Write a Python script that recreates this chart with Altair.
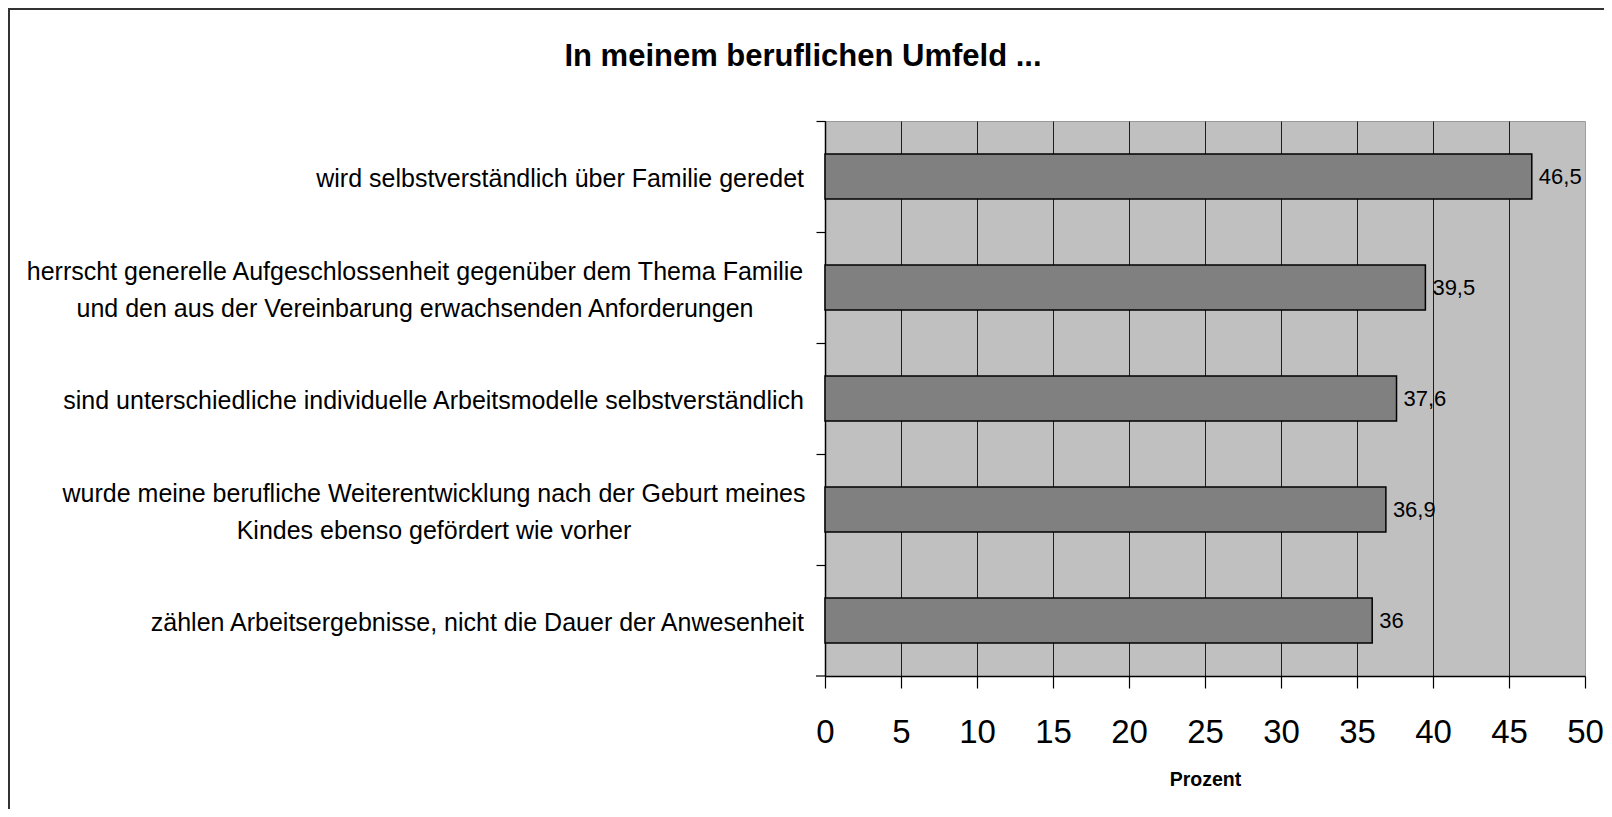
import altair as alt
import pandas as pd

title_text = "In meinem beruflichen Umfeld ..."
axis_title = "Prozent"
categories = [
    "wird selbstverständlich über Familie geredet",
    "herrscht generelle Aufgeschlossenheit gegenüber dem Thema Familie\nund den aus der Vereinbarung erwachsenden Anforderungen",
    "sind unterschiedliche individuelle Arbeitsmodelle selbstverständlich",
    "wurde meine berufliche Weiterentwicklung nach der Geburt meines\nKindes ebenso gefördert wie vorher",
    "zählen Arbeitsergebnisse, nicht die Dauer der Anwesenheit",
]
values = [46.5, 39.5, 37.6, 36.9, 36.0]
x_ticks = [0, 5, 10, 15, 20, 25, 30, 35, 40, 45, 50]

df = pd.DataFrame({"cat": categories, "value": values})

FONT = "Liberation Sans"

y_scale = alt.Scale(paddingInner=0.595, paddingOuter=0.2975)
y_enc = alt.Y(
    "cat:N", sort=categories, scale=y_scale,
    axis=alt.Axis(labels=False, title=None, bandPosition=0, tickOffset=-33, tickSize=9,
                  tickColor="#000000", tickWidth=1.2, domainColor="#000000",
                  domainWidth=1.5, grid=False),
)
x_enc = alt.X(
    "value:Q", scale=alt.Scale(domain=[0, 50], nice=False),
    axis=alt.Axis(values=x_ticks, title=axis_title, labelFontSize=33,
                  labelFlush=False, labelOverlap=False,
                  labelPadding=28, tickSize=12, tickColor="#000000", tickWidth=1.2,
                  domainColor="#000000", domainWidth=1.5,
                  gridColor={"condition": {"test": "datum.value === 50", "value": "#a0a0a0"},
                             "value": "#000000"},
                  gridWidth=1, gridOpacity=0.85, labelColor="#000000",
                  titleFontSize=19.5, titleFontWeight="bold", titleY=109,
                  titleBaseline="alphabetic", titleColor="#000000"),
)

base = alt.Chart(df)
bars = base.mark_bar(color="#808080", stroke="#000000", strokeWidth=1.5).encode(x=x_enc, y=y_enc)

vals = base.transform_calculate(
    lbl="replace(toString(datum.value), '.', ',')"
).mark_text(align="left", baseline="middle", dx=7, fontSize=22, font=FONT, color="#000000").encode(
    x="value:Q", y=alt.Y("cat:N", sort=categories), text="lbl:N"
)

single = base.transform_filter("indexof(datum.cat, '\\n') < 0").mark_text(
    align="right", baseline="middle", fontSize=25, font=FONT, color="#000000", dy=2
).encode(x=alt.value(-21), y=alt.Y("cat:N", sort=categories), text="cat:N")

multi1 = base.transform_filter(alt.FieldEqualPredicate(field="cat", equal=categories[1])).mark_text(
    align="center", baseline="middle", fontSize=25, font=FONT, color="#000000",
    lineBreak="\n", lineHeight=37, dy=-16
).encode(x=alt.value(-410), y=alt.Y("cat:N", sort=categories), text="cat:N")

multi2 = base.transform_filter(alt.FieldEqualPredicate(field="cat", equal=categories[3])).mark_text(
    align="center", baseline="middle", fontSize=25, font=FONT, color="#000000",
    lineBreak="\n", lineHeight=37, dy=-16
).encode(x=alt.value(-391), y=alt.Y("cat:N", sort=categories), text="cat:N")

title = alt.Chart(pd.DataFrame({"t": [title_text]})).mark_text(
    align="center", baseline="alphabetic", fontSize=31, fontWeight="bold", font=FONT, color="#000000"
).encode(x=alt.value(-22), y=alt.value(-55), text="t:N")

frame_df = pd.DataFrame({"k": [0]})
frame_left = alt.Chart(frame_df).mark_rule(color="#333333", strokeWidth=2).encode(
    x=alt.value(-816), y=alt.value(-113), y2=alt.value(688)
)
frame_top = alt.Chart(frame_df).mark_rule(color="#333333", strokeWidth=2).encode(
    x=alt.value(-817), x2=alt.value(779), y=alt.value(-112)
)
bottom_tick = alt.Chart(frame_df).mark_rule(color="#000000", strokeWidth=1.2).encode(
    x=alt.value(-9), x2=alt.value(0), y=alt.value(555)
)

chart = alt.layer(
    bars, vals, single, multi1, multi2, title, frame_left, frame_top, bottom_tick
).properties(
    width=760, height=555,
    autosize=alt.AutoSizeParams(type="none"),
    padding={"left": 817, "top": 113, "right": 19, "bottom": 133},
    background="white",
).configure_view(
    fill="#c0c0c0", stroke="#999999", strokeWidth=1
).configure_axis(
    labelFont=FONT, titleFont=FONT
)

chart.save("out.html", embed_options={"renderer": "svg", "actions": False})
